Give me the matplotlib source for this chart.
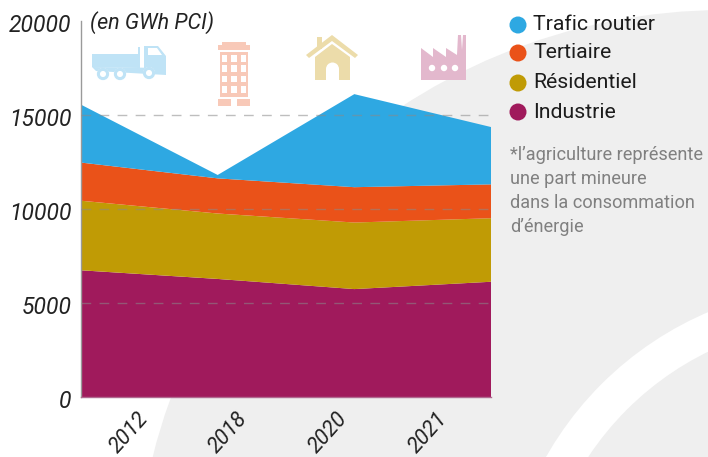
import matplotlib
matplotlib.use("Agg")
import matplotlib.pyplot as plt
from matplotlib.patches import Circle, Polygon, Rectangle
from matplotlib.transforms import ScaledTranslation

plt.rcParams['font.family'] = ['Roboto', 'DejaVu Sans']

years = ['2012', '2018', '2020', '2021']
series_names = ['Industrie', 'Résidentiel', 'Tertiaire', 'Trafic routier']
industrie = [6740, 6280, 5740, 6130]
residentiel = [3700, 3480, 3540, 3380]
tertiaire = [2030, 1870, 1880, 1800]
trafic = [3080, 180, 4950, 3050]
colors = ['#a01a5c', '#c09b05', '#ea5219', '#2ea8e2']
yticks = [0, 5000, 10000, 15000, 20000]
note = "*l’agriculture représente\nune part mineure\ndans la consommation\nd’énergie"
unit = '(en GWh PCI)'

W, H = 708, 457
fig = plt.figure(figsize=(W / 100, H / 100), dpi=100, facecolor='white')

# Decorative layer in pixel coordinates
bg = fig.add_axes([0, 0, 1, 1], zorder=0)
bg.set_xlim(0, W)
bg.set_ylim(H, 0)
bg.axis('off')
GREY = '#efefef'
bg.add_patch(Circle((725, 600), 590, fc=GREY, ec='none'))
bg.add_patch(Circle((841, 624), 339, fc='white', ec='none'))
bg.add_patch(Circle((841, 624), 303, fc=GREY, ec='none'))

# Truck icon
c = '#bfe3f6'
bg.add_patch(Polygon([(92, 54), (138, 54), (138, 47), (140, 47), (140, 68), (92, 67)], fc=c, ec='none'))
bg.add_patch(Polygon([(144, 46), (158, 46), (166, 56), (166, 68), (144, 68)], fc=c, ec='none'))
bg.add_patch(Polygon([(92, 67), (166, 68), (166, 75), (96, 71)], fc=c, ec='none'))
bg.add_patch(Polygon([(148, 48), (157, 48), (162, 55), (148, 55)], fc='white', ec='none'))
for x, y in [(103, 74), (120, 74), (149, 73)]:
    bg.add_patch(Circle((x, y), 6, fc='white', ec='none'))
    bg.add_patch(Circle((x, y), 4.6, fc='white', ec=c, lw=2.2))

# Building icon
c = '#f8c9b8'
bg.add_patch(Rectangle((218, 45), 32, 5, fc=c, ec='none'))
bg.add_patch(Rectangle((222, 42), 24, 4, fc=c, ec='none'))
bg.add_patch(Rectangle((220, 52), 28, 45, fc=c, ec='none'))
bg.add_patch(Rectangle((218, 99), 13, 7, fc=c, ec='none'))
bg.add_patch(Rectangle((237, 99), 13, 7, fc=c, ec='none'))
for r in range(4):
    for k in range(3):
        bg.add_patch(Rectangle((222 + k * 9.3, 55 + r * 10.3), 5.2, 6.8, fc='white', ec='none'))

# House icon
c = '#ecdcaa'
bg.add_patch(Rectangle((317, 37), 5, 12, fc=c, ec='none'))
bg.add_patch(Polygon([(332, 35), (358, 55), (355, 58), (332, 41), (309, 58), (306, 55)], fc=c, ec='none'))
bg.add_patch(Polygon([(332, 44), (350, 57), (350, 80), (315, 80), (315, 57)], fc=c, ec='none'))
bg.add_patch(Rectangle((326, 69), 13, 11, fc='white', ec='none'))
bg.add_patch(Circle((332.5, 69), 6.5, fc='white', ec='none'))

# Factory icon
c = '#e3b8cd'
bg.add_patch(Polygon([(421, 80), (421, 48), (433, 57), (433, 48), (446, 57), (446, 48), (457, 55),
                      (458, 35), (461, 35), (462, 50), (463, 35), (466, 35), (466, 80)], fc=c, ec='none'))
for x in (432, 444, 455):
    bg.add_patch(Circle((x, 68), 3.2, fc='white', ec='none'))

# Chart
ax = fig.add_axes([81 / W, 1 - 397 / H, 410 / W, 376 / H], zorder=1)
ax.patch.set_alpha(0)
xs = list(range(len(years)))
ax.stackplot(xs, industrie, residentiel, tertiaire, trafic, colors=colors, lw=0, zorder=2)
ax.set_xlim(0, 3)
ax.set_ylim(0, 20000)
for v in yticks[1:-1]:
    ax.axhline(v, color='#8a8a8a', alpha=0.55, lw=1, dashes=(7, 6), zorder=3)
for s in ('top', 'right'):
    ax.spines[s].set_visible(False)
ax.spines['left'].set_color('#9a9a9a')
ax.spines['left'].set_linewidth(1)
ax.spines['bottom'].set_color('#b06a90')
ax.spines['bottom'].set_linewidth(1)
ax.set_yticks(yticks)
ax.set_yticklabels([str(v) for v in yticks], fontsize=16.5, fontstyle='italic', color='#222222')
ax.tick_params(axis='y', length=0, pad=7)
down = ScaledTranslation(0, -2 / 100, fig.dpi_scale_trans)
for lab in ax.get_yticklabels():
    lab.set_transform(lab.get_transform() + down)
ax.set_xticks([0.41, 1.14, 1.87, 2.60])
ax.set_xticklabels(years, fontsize=15.5, fontstyle='italic', color='#222222',
                   rotation=48, ha='right', rotation_mode='anchor')
ax.tick_params(axis='x', length=0, pad=8)
bg.text(90, 23, unit, fontsize=15.5, fontstyle='italic', color='#222222', va='center', ha='left')

# Legend
for name, col, y in zip(series_names[::-1], colors[::-1], [25, 53, 83, 112]):
    bg.add_patch(Circle((518, y), 8.5, fc=col, ec='none'))
    bg.text(533, y, name, fontsize=15.3, color='#1c1c1c', va='center', ha='left')
bg.text(510, 191, note, fontsize=13.1, color='#808080', va='center', ha='left', linespacing=1.43)

fig.savefig('out.png', dpi=100)
